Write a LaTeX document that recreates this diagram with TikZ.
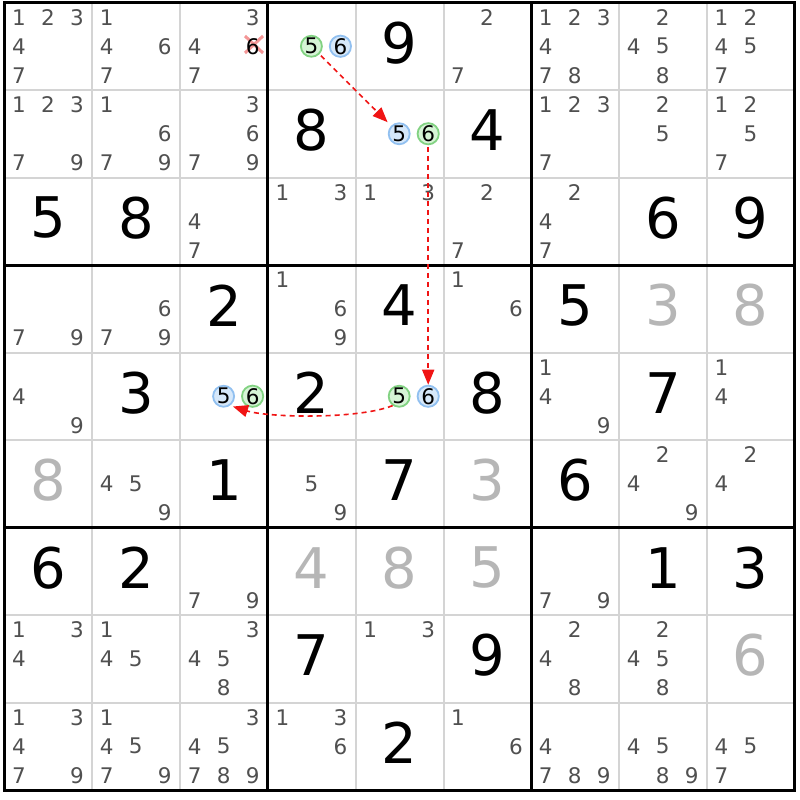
\documentclass[tikz,border=0pt]{standalone}
\usepackage{fontspec}
\setmainfont{DejaVu Sans}
\usetikzlibrary{arrows.meta}
\definecolor{candgray}{RGB}{80,80,80}
\definecolor{solvedgray}{RGB}{182,182,182}
\definecolor{thingrid}{RGB}{212,212,212}
\definecolor{hlgreenline}{RGB}{130,210,130}
\definecolor{hlgreenfill}{RGB}{214,244,214}
\definecolor{hlblueline}{RGB}{145,192,240}
\definecolor{hlbluefill}{RGB}{214,232,250}
\definecolor{linkred}{RGB}{240,20,20}
\definecolor{xred}{RGB}{244,150,150}
\newcommand\candnode[4]{%
  \pgfmathsetmacro\cx{4.5+87.8*(#2-1)+14.5+29*mod(#3-1,3)}%
  \pgfmathsetmacro\cy{2.5+87.5*(#1-1)+14.75+29*int((#3-1)/3)}%
  \node[#4] (n#1#2#3) at (\cx,\cy) {#3};}
\newcommand\cands[3]{\foreach \dg in {#3}{\candnode{#1}{#2}{\dg}{cand}}}
\newcommand\bignum[4]{%
  \pgfmathsetmacro\cx{4.5+87.8*(#2-0.5)}%
  \pgfmathsetmacro\cy{2.5+87.5*(#1-0.5)-3.5}%
  \node[#4] (g#1#2) at (\cx,\cy) {#3};}
\begin{document}
\begin{tikzpicture}[x=1pt,y=-1pt,
  cand/.style={font=\fontsize{21.5}{21.5}\selectfont, text=candgray, inner sep=0pt},
  big/.style={font=\fontsize{56}{56}\selectfont, text=black, inner sep=0pt},
  solved/.style={big, text=solvedgray},
  hlg/.style={cand, text=black, circle, draw=hlgreenline, fill=hlgreenfill, line width=1.8pt, minimum size=21pt},
  hlb/.style={cand, text=black, circle, draw=hlblueline, fill=hlbluefill, line width=1.8pt, minimum size=21pt},
  elim/.style={cand, text=black},
  xmark/.style={draw=xred, line width=3pt},
  thingridline/.style={draw=thingrid, line width=2pt},
  thickgridline/.style={draw=black, line width=3pt, line cap=rect},
  link/.style={draw=linkred, line width=1.6pt, dash pattern=on 5pt off 4pt, -{Triangle[length=15pt,width=12pt]}}
]
\useasboundingbox (0,0) rectangle (800,800);
\fill[white] (0,0) rectangle (800,800);
% grid
\foreach \i in {1,2,4,5,7,8} {
  \draw[thingridline] ({4.5+87.8*\i},2.5) -- ({4.5+87.8*\i},790);
  \draw[thingridline] (4.5,{2.5+87.5*\i}) -- (794.7,{2.5+87.5*\i});
}
\foreach \i in {3,6} {
  \draw[thickgridline] ({4.5+87.8*\i},2.5) -- ({4.5+87.8*\i},790);
  \draw[thickgridline] (4.5,{2.5+87.5*\i}) -- (794.7,{2.5+87.5*\i});
}
\draw[thickgridline] (4.5,2.5) rectangle (794.7,790);
% row 1
\cands{1}{1}{1,2,3,4,7}
\cands{1}{2}{1,4,6,7}
\cands{1}{3}{3,4,7}
\draw[xmark] (245,36) -- (263,53);
\draw[xmark] (245,53) -- (263,36);
\candnode{1}{3}{6}{elim}
\candnode{1}{4}{5}{hlg}
\candnode{1}{4}{6}{hlb}
\bignum{1}{5}{9}{big}
\cands{1}{6}{2,7}
\cands{1}{7}{1,2,3,4,7,8}
\cands{1}{8}{2,4,5,8}
\cands{1}{9}{1,2,4,5,7}
% row 2
\cands{2}{1}{1,2,3,7,9}
\cands{2}{2}{1,6,7,9}
\cands{2}{3}{3,6,7,9}
\bignum{2}{4}{8}{big}
\candnode{2}{5}{5}{hlb}
\candnode{2}{5}{6}{hlg}
\bignum{2}{6}{4}{big}
\cands{2}{7}{1,2,3,7}
\cands{2}{8}{2,5}
\cands{2}{9}{1,2,5,7}
% row 3
\bignum{3}{1}{5}{big}
\bignum{3}{2}{8}{big}
\cands{3}{3}{4,7}
\cands{3}{4}{1,3}
\cands{3}{5}{1,3}
\cands{3}{6}{2,7}
\cands{3}{7}{2,4,7}
\bignum{3}{8}{6}{big}
\bignum{3}{9}{9}{big}
% row 4
\cands{4}{1}{7,9}
\cands{4}{2}{6,7,9}
\bignum{4}{3}{2}{big}
\cands{4}{4}{1,6,9}
\bignum{4}{5}{4}{big}
\cands{4}{6}{1,6}
\bignum{4}{7}{5}{big}
\bignum{4}{8}{3}{solved}
\bignum{4}{9}{8}{solved}
% row 5
\cands{5}{1}{4,9}
\bignum{5}{2}{3}{big}
\candnode{5}{3}{5}{hlb}
\candnode{5}{3}{6}{hlg}
\bignum{5}{4}{2}{big}
\candnode{5}{5}{5}{hlg}
\candnode{5}{5}{6}{hlb}
\bignum{5}{6}{8}{big}
\cands{5}{7}{1,4,9}
\bignum{5}{8}{7}{big}
\cands{5}{9}{1,4}
% row 6
\bignum{6}{1}{8}{solved}
\cands{6}{2}{4,5,9}
\bignum{6}{3}{1}{big}
\cands{6}{4}{5,9}
\bignum{6}{5}{7}{big}
\bignum{6}{6}{3}{solved}
\bignum{6}{7}{6}{big}
\cands{6}{8}{2,4,9}
\cands{6}{9}{2,4}
% row 7
\bignum{7}{1}{6}{big}
\bignum{7}{2}{2}{big}
\cands{7}{3}{7,9}
\bignum{7}{4}{4}{solved}
\bignum{7}{5}{8}{solved}
\bignum{7}{6}{5}{solved}
\cands{7}{7}{7,9}
\bignum{7}{8}{1}{big}
\bignum{7}{9}{3}{big}
% row 8
\cands{8}{1}{1,3,4}
\cands{8}{2}{1,4,5}
\cands{8}{3}{3,4,5,8}
\bignum{8}{4}{7}{big}
\cands{8}{5}{1,3}
\bignum{8}{6}{9}{big}
\cands{8}{7}{2,4,8}
\cands{8}{8}{2,4,5,8}
\bignum{8}{9}{6}{solved}
% row 9
\cands{9}{1}{1,3,4,7,9}
\cands{9}{2}{1,4,5,7,9}
\cands{9}{3}{3,4,5,7,8,9}
\cands{9}{4}{1,3,6}
\bignum{9}{5}{2}{big}
\cands{9}{6}{1,6}
\cands{9}{7}{4,7,8,9}
\cands{9}{8}{4,5,8,9}
\cands{9}{9}{4,5,7}
% links
\draw[link, shorten <=2pt, shorten >=5pt] (n145) -- (n255);
\draw[link, shorten <=1.5pt] (n256) -- (n556);
\draw[link, shorten >=3pt] (n555.235) .. controls +(-35,14) and +(38,12) .. (n535.-55);
\end{tikzpicture}
\end{document}
